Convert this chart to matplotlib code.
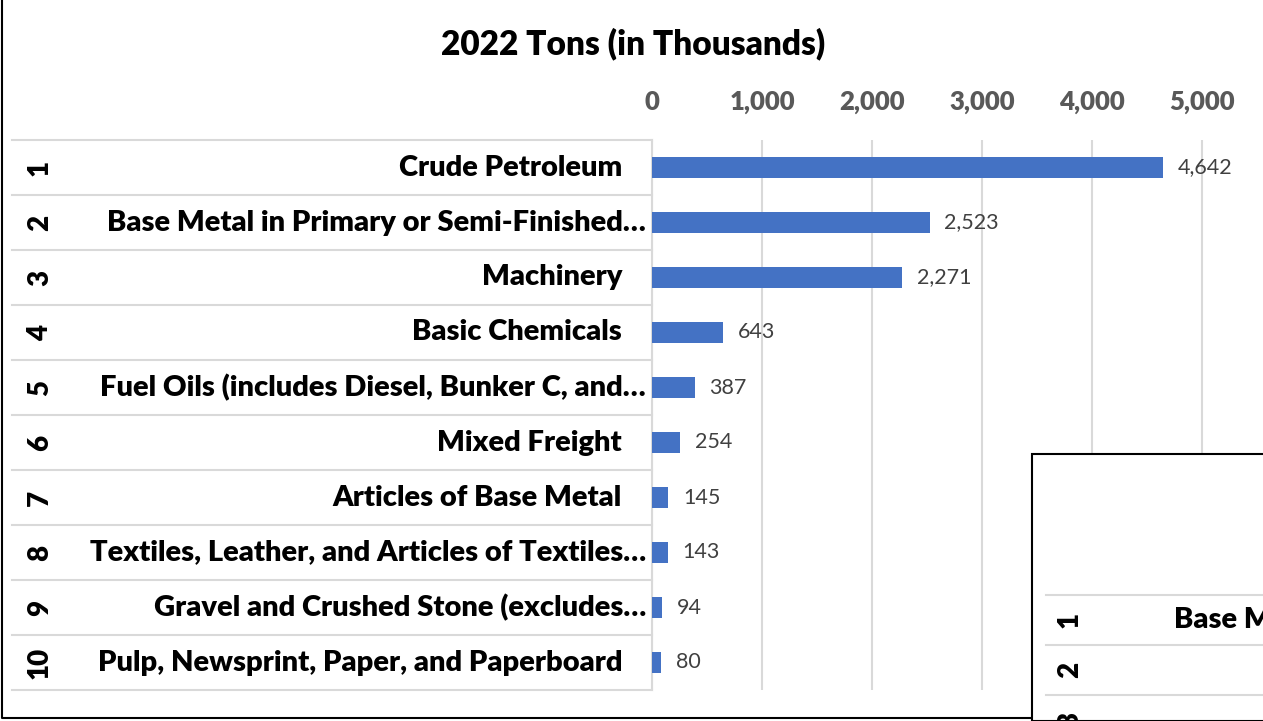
import matplotlib.pyplot as plt
import matplotlib.transforms as mtransforms
from matplotlib.lines import Line2D
from matplotlib.patches import Rectangle

plt.rcParams['font.family'] = ['Lato', 'DejaVu Sans']

ranks = ['1', '2', '3', '4', '5', '6', '7', '8', '9', '10']
commodities = [
    'Crude Petroleum',
    'Base Metal in Primary or Semi-Finished\u2026',
    'Machinery',
    'Basic Chemicals',
    'Fuel Oils (includes Diesel, Bunker C, and\u2026',
    'Mixed Freight',
    'Articles of Base Metal',
    'Textiles, Leather, and Articles of Textiles\u2026',
    'Gravel and Crushed Stone (excludes\u2026',
    'Pulp, Newsprint, Paper, and Paperboard',
]
tons = [4642, 2523, 2271, 643, 387, 254, 145, 143, 94, 80]
x_ticks = [0, 1000, 2000, 3000, 4000, 5000]

next_ranks = ['1', '2', '3']
next_first = 'Base Metal in Primary or Semi-Finished Forms'

W, H = 1263, 721
fig = plt.figure(figsize=(W / 100, H / 100), dpi=100)


def fx(px):
    return px / W


def fy(py):
    return 1 - py / H


ax = fig.add_axes([fx(652), fy(690), fx(W) - fx(652), fy(140) - fy(690)])
ypos = list(range(len(tons)))
ax.barh(ypos, tons, height=0.37, color='#4472C4', zorder=3)
ax.set_ylim(len(tons) - 0.5, -0.5)
ax.set_xlim(0, (W - 652) / 110 * 1000)

for y, v in zip(ypos, tons):
    ax.text(v + 135, y, f'{v:,}', va='center', ha='left',
            fontsize=15.5, color='#404040', zorder=4)

ax.xaxis.tick_top()
ax.set_xticks(x_ticks)
ax.set_xticklabels([f'{t:,}' for t in x_ticks], fontsize=18.5,
                   fontweight='heavy', color='#595959')
ax.tick_params(axis='x', length=0, pad=19)
ax.set_yticks([])
ax.grid(axis='x', color='#d9d9d9', linewidth=1.5, zorder=0)
for side in ['top', 'right', 'bottom']:
    ax.spines[side].set_visible(False)
ax.spines['left'].set_color('#d9d9d9')
ax.spines['left'].set_linewidth(1.5)

# category table on the left
tr = mtransforms.blended_transform_factory(fig.transFigure, ax.transData)
for b in [i - 0.5 for i in range(len(tons) + 1)]:
    fig.add_artist(Line2D([fx(12), fx(652)], [b, b], transform=tr,
                          color='#d9d9d9', linewidth=1.5))
for y, r, name in zip(ypos, ranks, commodities):
    fig.text(fx(40), y, r, transform=tr, rotation=90, ha='center',
             va='center', fontsize=20, fontweight='heavy')
    right = 646 if name.endswith('\u2026') else 622
    fig.text(fx(right), y, name, transform=tr, ha='right', va='center',
             fontsize=21, fontweight='heavy')

fig.text(fx(633), fy(44), '2022 Tons (in Thousands)', ha='center',
         va='center', fontsize=24, fontweight='heavy')

# outer chart frame
fig.add_artist(Line2D([fx(2), fx(2), fx(1032)], [fy(0), fy(718), fy(718)],
                      color='black', linewidth=1.5))

# second chart sitting on top, bottom right
fig.add_artist(Rectangle((fx(1032), 0), fx(W) - fx(1032) + 0.01,
                         fy(454), transform=fig.transFigure,
                         facecolor='white', edgecolor='black',
                         linewidth=1.5, zorder=5))
for py in [595, 645, 695]:
    fig.add_artist(Line2D([fx(1046), fx(W)], [fy(py), fy(py)],
                          color='#d9d9d9', linewidth=1.5, zorder=6))
for py, r in zip([620, 670, 720], next_ranks):
    fig.text(fx(1070), fy(py), r, rotation=90, ha='center', va='center',
             fontsize=20, fontweight='heavy', zorder=7)
fig.text(fx(1174), fy(620), next_first, ha='left', va='center',
         fontsize=21, fontweight='heavy', zorder=7)

fig.savefig('out.png', dpi=100, facecolor='white')
